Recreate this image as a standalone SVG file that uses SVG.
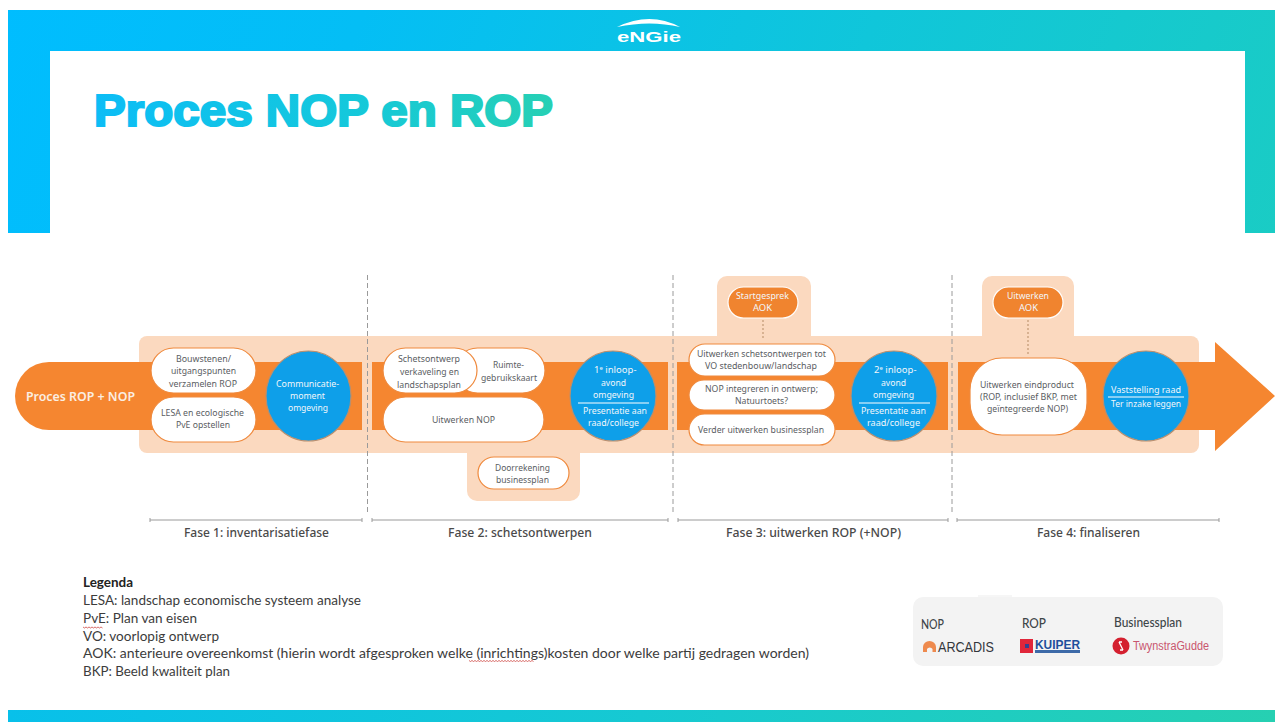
<svg xmlns="http://www.w3.org/2000/svg" width="1275" height="722" viewBox="0 0 1275 722">
<style>
text{font-family:"Noto Sans","Liberation Sans",sans-serif}
.p{font-size:9.5px;fill:#5a5d62;text-anchor:start}
.w{font-size:9.5px;fill:#f2f6fa;text-anchor:start}
.pill{fill:#fff;stroke:#ef8a3e;stroke-width:1.2}
.oval{fill:#0e9fe9;stroke:#b98f6f;stroke-width:1.2}
.opill{fill:#f0842f;stroke:#fff;stroke-width:1.2}
.peach{fill:#fbd9bf}
.orange{fill:#f58630}
.sep{stroke:#fff;stroke-width:1}
.dash{stroke:#9a9a9a;stroke-width:1;stroke-dasharray:5 3;fill:none}
.dot{stroke:#c9a27f;stroke-width:1.4;stroke-dasharray:2 2;fill:none}
.br{stroke:#9a9a9a;stroke-width:1;fill:none}
.fase{font-size:12.5px;fill:#4a4a4a;font-weight:500}
.leg{font-family:"Lato","Liberation Sans",sans-serif;font-size:13px;fill:#3c3c3c}
.co{font-family:"Lato","Liberation Sans",sans-serif;font-size:12.5px;fill:#3e4548;font-weight:500}
.wave{stroke:#c9302c;stroke-width:.7;fill:none}
</style>
<defs>
<linearGradient id="band" gradientUnits="userSpaceOnUse" x1="0" y1="0" x2="1275" y2="500">
<stop offset="0" stop-color="#00bdff"/><stop offset=".25" stop-color="#04bef5"/><stop offset=".6" stop-color="#10c6da"/><stop offset="1" stop-color="#1ccdc0"/>
</linearGradient>
<linearGradient id="bandb" gradientUnits="userSpaceOnUse" x1="8" y1="0" x2="1275" y2="0">
<stop offset="0" stop-color="#08c0ea"/><stop offset=".5" stop-color="#16c9d2"/><stop offset="1" stop-color="#26d0b2"/>
</linearGradient>
<linearGradient id="title" gradientUnits="userSpaceOnUse" x1="94" y1="0" x2="553" y2="0">
<stop offset="0" stop-color="#0cbdf6"/><stop offset=".55" stop-color="#14c8dc"/><stop offset="1" stop-color="#26d0b4"/>
</linearGradient>
</defs>
<rect width="1275" height="722" fill="#fff"/>
<g id="slide-frame">
<path d="M8 10H1275V233H1245V51H50V233H8Z" fill="url(#band)"/>
<rect x="8" y="710" width="1267" height="12" fill="url(#bandb)"/>
</g>
<g id="logo-engie">
<path d="M617 27Q650 11 680 27Q650 20 617 27Z" fill="#fff"/>
<text x="617" y="42" font-size="15" font-weight="700" fill="#fff" textLength="64" lengthAdjust="spacingAndGlyphs" style="font-family:'Liberation Sans',sans-serif">eNGie</text>
</g>
<text id="title-text" x="94" y="126" font-size="45" font-weight="700" fill="url(#title)" stroke="url(#title)" stroke-width="2.200" textLength="459" lengthAdjust="spacingAndGlyphs" style="font-family:'Liberation Sans',Arial,sans-serif">Proces NOP en ROP</text>

<g id="backdrop">
<rect class="peach" x="139" y="336" width="1060" height="117" rx="8"/>
<path class="peach" d="M467 450H580V491a10 10 0 0 1-10 10H477a10 10 0 0 1-10-10Z"/>
<path class="peach" d="M717 340V286a10 10 0 0 1 10-10h74a10 10 0 0 1 10 10V340Z"/>
<path class="peach" d="M982 340V286a10 10 0 0 1 10-10h72a10 10 0 0 1 10 10V340Z"/>
<path class="orange" d="M49 362H362V430H49A34 34 0 0 1 49 362Z"/>
<rect class="orange" x="372" y="362" width="296" height="68"/>
<rect class="orange" x="677" y="362" width="271" height="68"/>
<path class="orange" d="M958 362H1215V342L1275 396L1215 451V430H958Z"/>
</g>

<g id="connectors">
<path class="dash" d="M367.500 275V513"/>
<path class="dash" d="M673 275V513"/>
<path class="dash" d="M952 275V513"/>
<path class="dot" d="M763 320V339"/>
<path class="dot" d="M1028 320V354"/>
<path class="br" d="M150 520H362M150 518v4M362 518v4"/>
<path class="br" d="M372 520H668M372 518v4M668 518v4"/>
<path class="br" d="M678 520H948M678 518v4M948 518v4"/>
<path class="br" d="M957 520H1219M957 518v4M1219 518v4"/>
</g>

<g id="start"><text x="26" y="401" font-size="13" font-weight="600" fill="#fbeee2" textLength="109" lengthAdjust="spacingAndGlyphs">Proces ROP + NOP</text></g>

<g id="n-bouwstenen"><rect class="pill" x="151" y="348" width="105" height="45" rx="22.500"/>
<text class="p" x="176" y="362" textLength="55" lengthAdjust="spacingAndGlyphs">Bouwstenen/</text>
<text class="p" x="171" y="374" textLength="65" lengthAdjust="spacingAndGlyphs">uitgangspunten</text>
<text class="p" x="169" y="386.500" textLength="68" lengthAdjust="spacingAndGlyphs">verzamelen ROP</text></g>
<g id="n-lesa"><rect class="pill" x="151" y="397" width="105" height="45" rx="22.500"/>
<text class="p" x="161" y="416" textLength="83" lengthAdjust="spacingAndGlyphs">LESA en ecologische</text>
<text class="p" x="176" y="428" textLength="54" lengthAdjust="spacingAndGlyphs">PvE opstellen</text></g>
<g id="n-communicatie"><ellipse class="oval" cx="308.500" cy="396" rx="42.500" ry="45"/>
<text class="w" x="276" y="387" textLength="63" lengthAdjust="spacingAndGlyphs">Communicatie-</text>
<text class="w" x="290" y="399" textLength="35" lengthAdjust="spacingAndGlyphs">moment</text>
<text class="w" x="288" y="411" textLength="40" lengthAdjust="spacingAndGlyphs">omgeving</text></g>

<g id="n-ruimte"><rect class="pill" x="455" y="348" width="90" height="45" rx="22.500"/>
<text class="p" x="493" y="368" textLength="31" lengthAdjust="spacingAndGlyphs">Ruimte-</text>
<text class="p" x="481" y="381" textLength="56" lengthAdjust="spacingAndGlyphs">gebruikskaart</text></g>
<g id="n-schets"><rect class="pill" x="383" y="348" width="94" height="45" rx="22.500"/>
<text class="p" x="398" y="362" textLength="62" lengthAdjust="spacingAndGlyphs">Schetsontwerp</text>
<text class="p" x="400" y="375" textLength="59" lengthAdjust="spacingAndGlyphs">verkaveling en</text>
<text class="p" x="397" y="387.500" textLength="64" lengthAdjust="spacingAndGlyphs">landschapsplan</text></g>
<g id="n-uitwerken-nop"><rect class="pill" x="383" y="397" width="161" height="45" rx="22.500"/>
<text class="p" x="432" y="423" textLength="63" lengthAdjust="spacingAndGlyphs">Uitwerken NOP</text></g>
<g id="n-inloop1"><ellipse class="oval" cx="613" cy="396" rx="43" ry="45"/>
<text class="w" x="594" y="373"><tspan>1</tspan><tspan font-size="6" dy="-3">e</tspan><tspan dy="3"> inloop-</tspan></text>
<text class="w" x="601" y="385.500" textLength="25" lengthAdjust="spacingAndGlyphs">avond</text>
<text class="w" x="593" y="398" textLength="41" lengthAdjust="spacingAndGlyphs">omgeving</text>
<line class="sep" x1="578" y1="403" x2="649" y2="403"/>
<text class="w" x="583" y="414" textLength="64" lengthAdjust="spacingAndGlyphs">Presentatie aan</text>
<text class="w" x="588" y="426" textLength="51" lengthAdjust="spacingAndGlyphs">raad/college</text></g>
<g id="n-doorrekening"><rect class="pill" x="478" y="457" width="91" height="32" rx="16"/>
<text class="p" x="495" y="471" textLength="55" lengthAdjust="spacingAndGlyphs">Doorrekening</text>
<text class="p" x="496" y="483" textLength="53" lengthAdjust="spacingAndGlyphs">businessplan</text></g>

<g id="n-startgesprek"><rect class="opill" x="728" y="287" width="70" height="31" rx="15.500"/>
<text class="w" x="736" y="299" textLength="53" lengthAdjust="spacingAndGlyphs">Startgesprek</text>
<text class="w" x="753" y="311" textLength="19" lengthAdjust="spacingAndGlyphs">AOK</text></g>
<g id="n-schetsontwerpen"><rect class="pill" x="689" y="344" width="146" height="32" rx="16"/>
<text class="p" x="697" y="357" textLength="129" lengthAdjust="spacingAndGlyphs">Uitwerken schetsontwerpen tot</text>
<text class="p" x="705" y="369" textLength="112" lengthAdjust="spacingAndGlyphs">VO stedenbouw/landschap</text></g>
<g id="n-nop-integreren"><rect class="pill" x="689" y="380" width="146" height="30" rx="15"/>
<text class="p" x="705" y="392" textLength="113" lengthAdjust="spacingAndGlyphs">NOP integreren in ontwerp;</text>
<text class="p" x="735" y="404" textLength="53" lengthAdjust="spacingAndGlyphs">Natuurtoets?</text></g>
<g id="n-businessplan"><rect class="pill" x="689" y="414" width="146" height="31" rx="15.500"/>
<text class="p" x="698" y="433" textLength="126" lengthAdjust="spacingAndGlyphs">Verder uitwerken businessplan</text></g>
<g id="n-inloop2"><ellipse class="oval" cx="894" cy="396" rx="43" ry="45"/>
<text class="w" x="874" y="373"><tspan>2</tspan><tspan font-size="6" dy="-3">e</tspan><tspan dy="3"> inloop-</tspan></text>
<text class="w" x="881" y="385.500" textLength="25" lengthAdjust="spacingAndGlyphs">avond</text>
<text class="w" x="873" y="398" textLength="41" lengthAdjust="spacingAndGlyphs">omgeving</text>
<line class="sep" x1="859" y1="403" x2="930" y2="403"/>
<text class="w" x="861" y="414" textLength="65" lengthAdjust="spacingAndGlyphs">Presentatie aan</text>
<text class="w" x="867" y="426" textLength="53" lengthAdjust="spacingAndGlyphs">raad/college</text></g>

<g id="n-uitwerken-aok"><rect class="opill" x="993" y="287" width="70" height="31" rx="15.500"/>
<text class="w" x="1007" y="299" textLength="42" lengthAdjust="spacingAndGlyphs">Uitwerken</text>
<text class="w" x="1019" y="311" textLength="19" lengthAdjust="spacingAndGlyphs">AOK</text></g>
<g id="n-eindproduct"><rect class="pill" x="970" y="358" width="117" height="77" rx="32"/>
<text class="p" x="980" y="388" textLength="94" lengthAdjust="spacingAndGlyphs">Uitwerken eindproduct</text>
<text class="p" x="980" y="400" textLength="97" lengthAdjust="spacingAndGlyphs">(ROP, inclusief BKP, met</text>
<text class="p" x="987" y="412" textLength="81" lengthAdjust="spacingAndGlyphs">geïntegreerde NOP)</text></g>
<g id="n-vaststelling"><ellipse class="oval" cx="1146" cy="396" rx="43" ry="45"/>
<text class="w" x="1111" y="393" textLength="70" lengthAdjust="spacingAndGlyphs">Vaststelling raad</text>
<line class="sep" x1="1108" y1="397" x2="1184" y2="397"/>
<text class="w" x="1111" y="407" textLength="70" lengthAdjust="spacingAndGlyphs">Ter inzake leggen</text></g>

<g id="phase-labels">
<text class="fase" x="184" y="537" textLength="145" lengthAdjust="spacingAndGlyphs">Fase 1: inventarisatiefase</text>
<text class="fase" x="448" y="537" textLength="144" lengthAdjust="spacingAndGlyphs">Fase 2: schetsontwerpen</text>
<text class="fase" x="726" y="537" textLength="175" lengthAdjust="spacingAndGlyphs">Fase 3: uitwerken ROP (+NOP)</text>
<text class="fase" x="1037" y="537" textLength="103" lengthAdjust="spacingAndGlyphs">Fase 4: finaliseren</text>
</g>

<g id="legend">
<text class="leg" x="83" y="587" font-weight="700" style="fill:#222" textLength="50" lengthAdjust="spacingAndGlyphs">Legenda</text>
<text class="leg" x="83" y="605" textLength="278" lengthAdjust="spacingAndGlyphs">LESA: landschap economische systeem analyse</text>
<text class="leg" x="83" y="623" textLength="114" lengthAdjust="spacingAndGlyphs">PvE: Plan van eisen</text>
<text class="leg" x="83" y="640.500" textLength="136" lengthAdjust="spacingAndGlyphs">VO: voorlopig ontwerp</text>
<text class="leg" x="83" y="658" textLength="726" lengthAdjust="spacingAndGlyphs">AOK: anterieure overeenkomst (hierin wordt afgesproken welke (inrichtings)kosten door welke partij gedragen worden)</text>
<text class="leg" x="83" y="676" textLength="147" lengthAdjust="spacingAndGlyphs">BKP: Beeld kwaliteit plan</text>
<path class="wave" d="M83 627l1.500 1 1.500-1 1.500 1 1.500-1 1.500 1 1.500-1 1.500 1 1.500-1 1.500 1 1.500-1 1.500 1 1.500-1 1.500 1"/>
<path class="wave" d="M469 660.500l1.500 1 1.500-1 1.500 1 1.500-1 1.500 1 1.500-1 1.500 1 1.500-1 1.500 1 1.500-1 1.500 1 1.500-1 1.500 1 1.500-1 1.500 1 1.500-1 1.500 1 1.500-1 1.500 1 1.500-1 1.500 1 1.500-1 1.500 1 1.500-1 1.500 1 1.500-1 1.500 1 1.500-1 1.500 1 1.500-1 1.500 1 1.500-1 1.500 1 1.500-1 1.500 1 1.500-1 1.500 1 1.500-1 1.500 1 1.500-1 1.500 1 1.500-1 1.500 1"/>
</g>

<g id="partners">
<rect x="978" y="595" width="34" height="4" fill="#f6f6f6"/>
<rect x="913" y="597" width="310" height="69" rx="10" fill="#f3f3f3"/>
<text class="co" x="921" y="629" textLength="23" lengthAdjust="spacingAndGlyphs">NOP</text>
<text class="co" x="1022" y="628" textLength="24" lengthAdjust="spacingAndGlyphs">ROP</text>
<text class="co" x="1114" y="627" textLength="68" lengthAdjust="spacingAndGlyphs">Businessplan</text>
<path d="M923 652V647a6.500 6 0 0 1 13 0V652H932.500V649a3 2.500 0 0 0-5.500 0V652Z" fill="#ee8a4e"/>
<text x="938" y="652" font-size="14" fill="#33363b" textLength="56" lengthAdjust="spacingAndGlyphs" style="font-family:'Liberation Sans',sans-serif">ARCADIS</text>
<rect x="1020" y="639" width="13" height="14" fill="#e0263a"/><rect x="1025" y="644" width="4" height="4" fill="#36418f"/>
<text x="1035" y="648.500" font-size="12" font-weight="700" fill="#1f4f9c" textLength="45" lengthAdjust="spacingAndGlyphs" style="font-family:'Liberation Sans',sans-serif">KUIPER</text>
<rect x="1035" y="650" width="45" height="3" fill="#3d6aa8"/>
<circle cx="1121" cy="646" r="8.500" fill="#d4202f"/>
<path d="M1119 642l4 8M1119 642h3M1123 650h-3" stroke="#fff" stroke-width="1.300" fill="none"/>
<text x="1133" y="650" font-size="12" fill="#c9566e" textLength="76" lengthAdjust="spacingAndGlyphs" style="font-family:'Liberation Sans',sans-serif">TwynstraGudde</text>
</g>
</svg>
